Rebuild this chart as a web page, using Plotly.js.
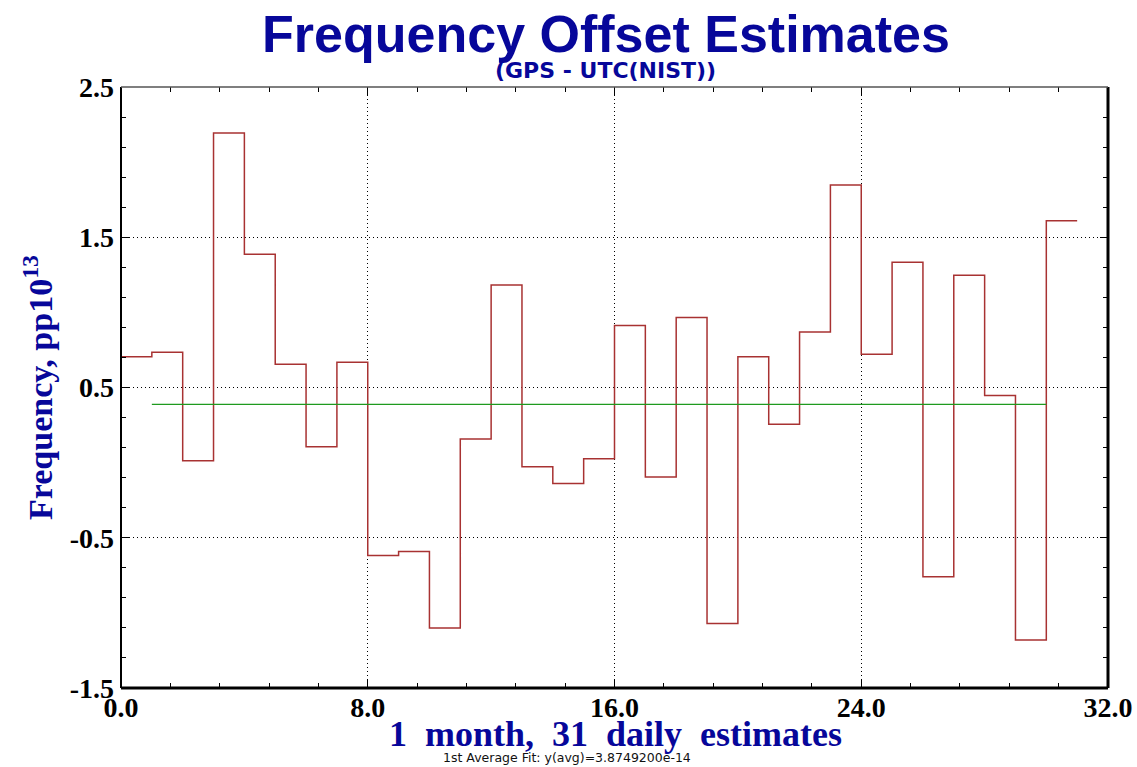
<!DOCTYPE html>
<html>
<head>
<meta charset="utf-8">
<script src="https://cdn.plot.ly/plotly-3.0.1.min.js"></script>
<style>
  html, body { margin: 0; padding: 0; background: #ffffff; }
  #chart { width: 1137px; height: 767px; }
</style>
</head>
<body>
<div id="chart"></div>
<script>
// ---- data ----
const dayStart = [0, 1, 2, 3, 4, 5, 6, 7, 8, 9, 10, 11, 12, 13, 14, 15,
                  16, 17, 18, 19, 20, 21, 22, 23, 24, 25, 26, 27, 28, 29, 30];
const freqOffset = [0.704, 0.735, 0.012, 2.194, 1.387, 0.655, 0.105, 0.668,
                    -0.618, -0.591, -1.101, 0.158, 1.183, -0.028, -0.139, 0.025,
                    0.912, -0.095, 0.966, -1.070, 0.704, 0.256, 0.870, 1.848,
                    0.722, 1.334, -0.760, 1.247, 0.447, -1.181, 1.609];
const fitRange = [1, 30];
const fitValue = 0.38749200;   // 3.8749200e-14 in pp10^13
const xTicks = [0, 8, 16, 24, 32];
const xTickLabels = ['0.0', '8.0', '16.0', '24.0', '32.0'];
const yTicks = [-1.5, -0.5, 0.5, 1.5, 2.5];
const yTickLabels = ['-1.5', '-0.5', '0.5', '1.5', '2.5'];

// step trace: each daily estimate spans one day
const stepX = dayStart.concat([dayStart[dayStart.length - 1] + 1]);
const stepY = freqOffset.concat([freqOffset[freqOffset.length - 1]]);

const blue = '#07079a';
const tickFont = { family: 'Liberation Serif', size: 28, color: '#000000', weight: 'bold' };

const traces = [
  {
    x: stepX, y: stepY, type: 'scatter', mode: 'lines',
    line: { shape: 'hv', color: '#a83232', width: 1.5 },
    hoverinfo: 'x+y', showlegend: false
  },
  {
    x: fitRange, y: [fitValue, fitValue], type: 'scatter', mode: 'lines',
    line: { color: '#1f9a1f', width: 1.2 },
    hoverinfo: 'y', showlegend: false
  }
];

const axisCommon = {
  showline: false, zeroline: false, mirror: 'ticks',
  ticks: 'inside', ticklen: 8, tickwidth: 1.2, tickcolor: '#000000',
  showgrid: true, gridcolor: '#000000', gridwidth: 1, griddash: '1px,3px',
  tickfont: tickFont, fixedrange: true
};

const layout = {
  width: 1137, height: 767,
  paper_bgcolor: '#ffffff', plot_bgcolor: '#ffffff',
  margin: { l: 121, r: 29, t: 87, b: 79 },
  showlegend: false,
  title: {
    text: 'Frequency Offset Estimates',
    font: { family: 'Liberation Sans', size: 52, color: blue, weight: 'bold' },
    x: 606 / 1137, xanchor: 'center', xref: 'container',
    y: 1 - 34 / 767, yanchor: 'middle', yref: 'container'
  },
  xaxis: Object.assign({}, axisCommon, {
    range: [0, 32], tickmode: 'array', tickvals: xTicks, ticktext: xTickLabels,
    ticklabelstandoff: 0,
    minor: { dtick: 1.6, tick0: 0, ticks: 'inside', ticklen: 5, tickwidth: 1, tickcolor: '#000000', showgrid: false }
  }),
  yaxis: Object.assign({}, axisCommon, {
    range: [-1.5, 2.5], tickmode: 'array', tickvals: yTicks, ticktext: yTickLabels,
    ticklabelstandoff: 6,
    minor: { dtick: 0.2, tick0: -1.5, ticks: 'inside', ticklen: 5, tickwidth: 1, tickcolor: '#000000', showgrid: false }
  }),
  shapes: [
    // frame: left, bottom, right heavy black; top thin grey
    { type: 'line', xref: 'paper', yref: 'paper', x0: 0, x1: 0, y0: 0, y1: 1, line: { color: '#000000', width: 2 }, layer: 'above' },
    { type: 'line', xref: 'paper', yref: 'paper', x0: 0, x1: 1, y0: 0, y1: 0, line: { color: '#000000', width: 3 }, layer: 'above' },
    { type: 'line', xref: 'paper', yref: 'paper', x0: 1, x1: 1, y0: 0, y1: 1, line: { color: '#000000', width: 3 }, layer: 'above' },
    { type: 'line', xref: 'paper', yref: 'paper', x0: 0, x1: 1, y0: 1, y1: 1, line: { color: '#555555', width: 1.5 }, layer: 'above' }
  ],
  annotations: [
    {
      text: '(GPS - UTC(NIST))', xref: 'paper', yref: 'paper',
      x: (605 - 121) / 987, y: (688 - 70) / 601, xanchor: 'center', yanchor: 'middle',
      showarrow: false,
      font: { family: 'DejaVu Sans', size: 22, color: blue, weight: 'bold' }
    },
    {
      text: '1\u00A0 month,\u00A0 31\u00A0 daily\u00A0 estimates',
      xref: 'paper', yref: 'paper',
      x: (615 - 121) / 987, y: (688 - 734) / 601, xanchor: 'center', yanchor: 'middle',
      showarrow: false,
      font: { family: 'Liberation Serif', size: 36, color: blue, weight: 'bold' }
    },
    {
      text: 'Frequency, pp10<sup>13</sup>',
      xref: 'paper', yref: 'paper', textangle: -90,
      x: (38 - 121) / 987, y: (688 - 388) / 601, xanchor: 'center', yanchor: 'middle',
      showarrow: false,
      font: { family: 'Liberation Serif', size: 34, color: blue, weight: 'bold' }
    },
    {
      text: '1st Average Fit: y(avg)=3.8749200e-14',
      xref: 'paper', yref: 'paper',
      x: (567 - 121) / 987, y: (688 - 758) / 601, xanchor: 'center', yanchor: 'middle',
      showarrow: false,
      font: { family: 'DejaVu Sans', size: 12.5, color: '#111111' }
    }
  ]
};

Plotly.newPlot('chart', traces, layout, { displayModeBar: false, staticPlot: true });
</script>
</body>
</html>
